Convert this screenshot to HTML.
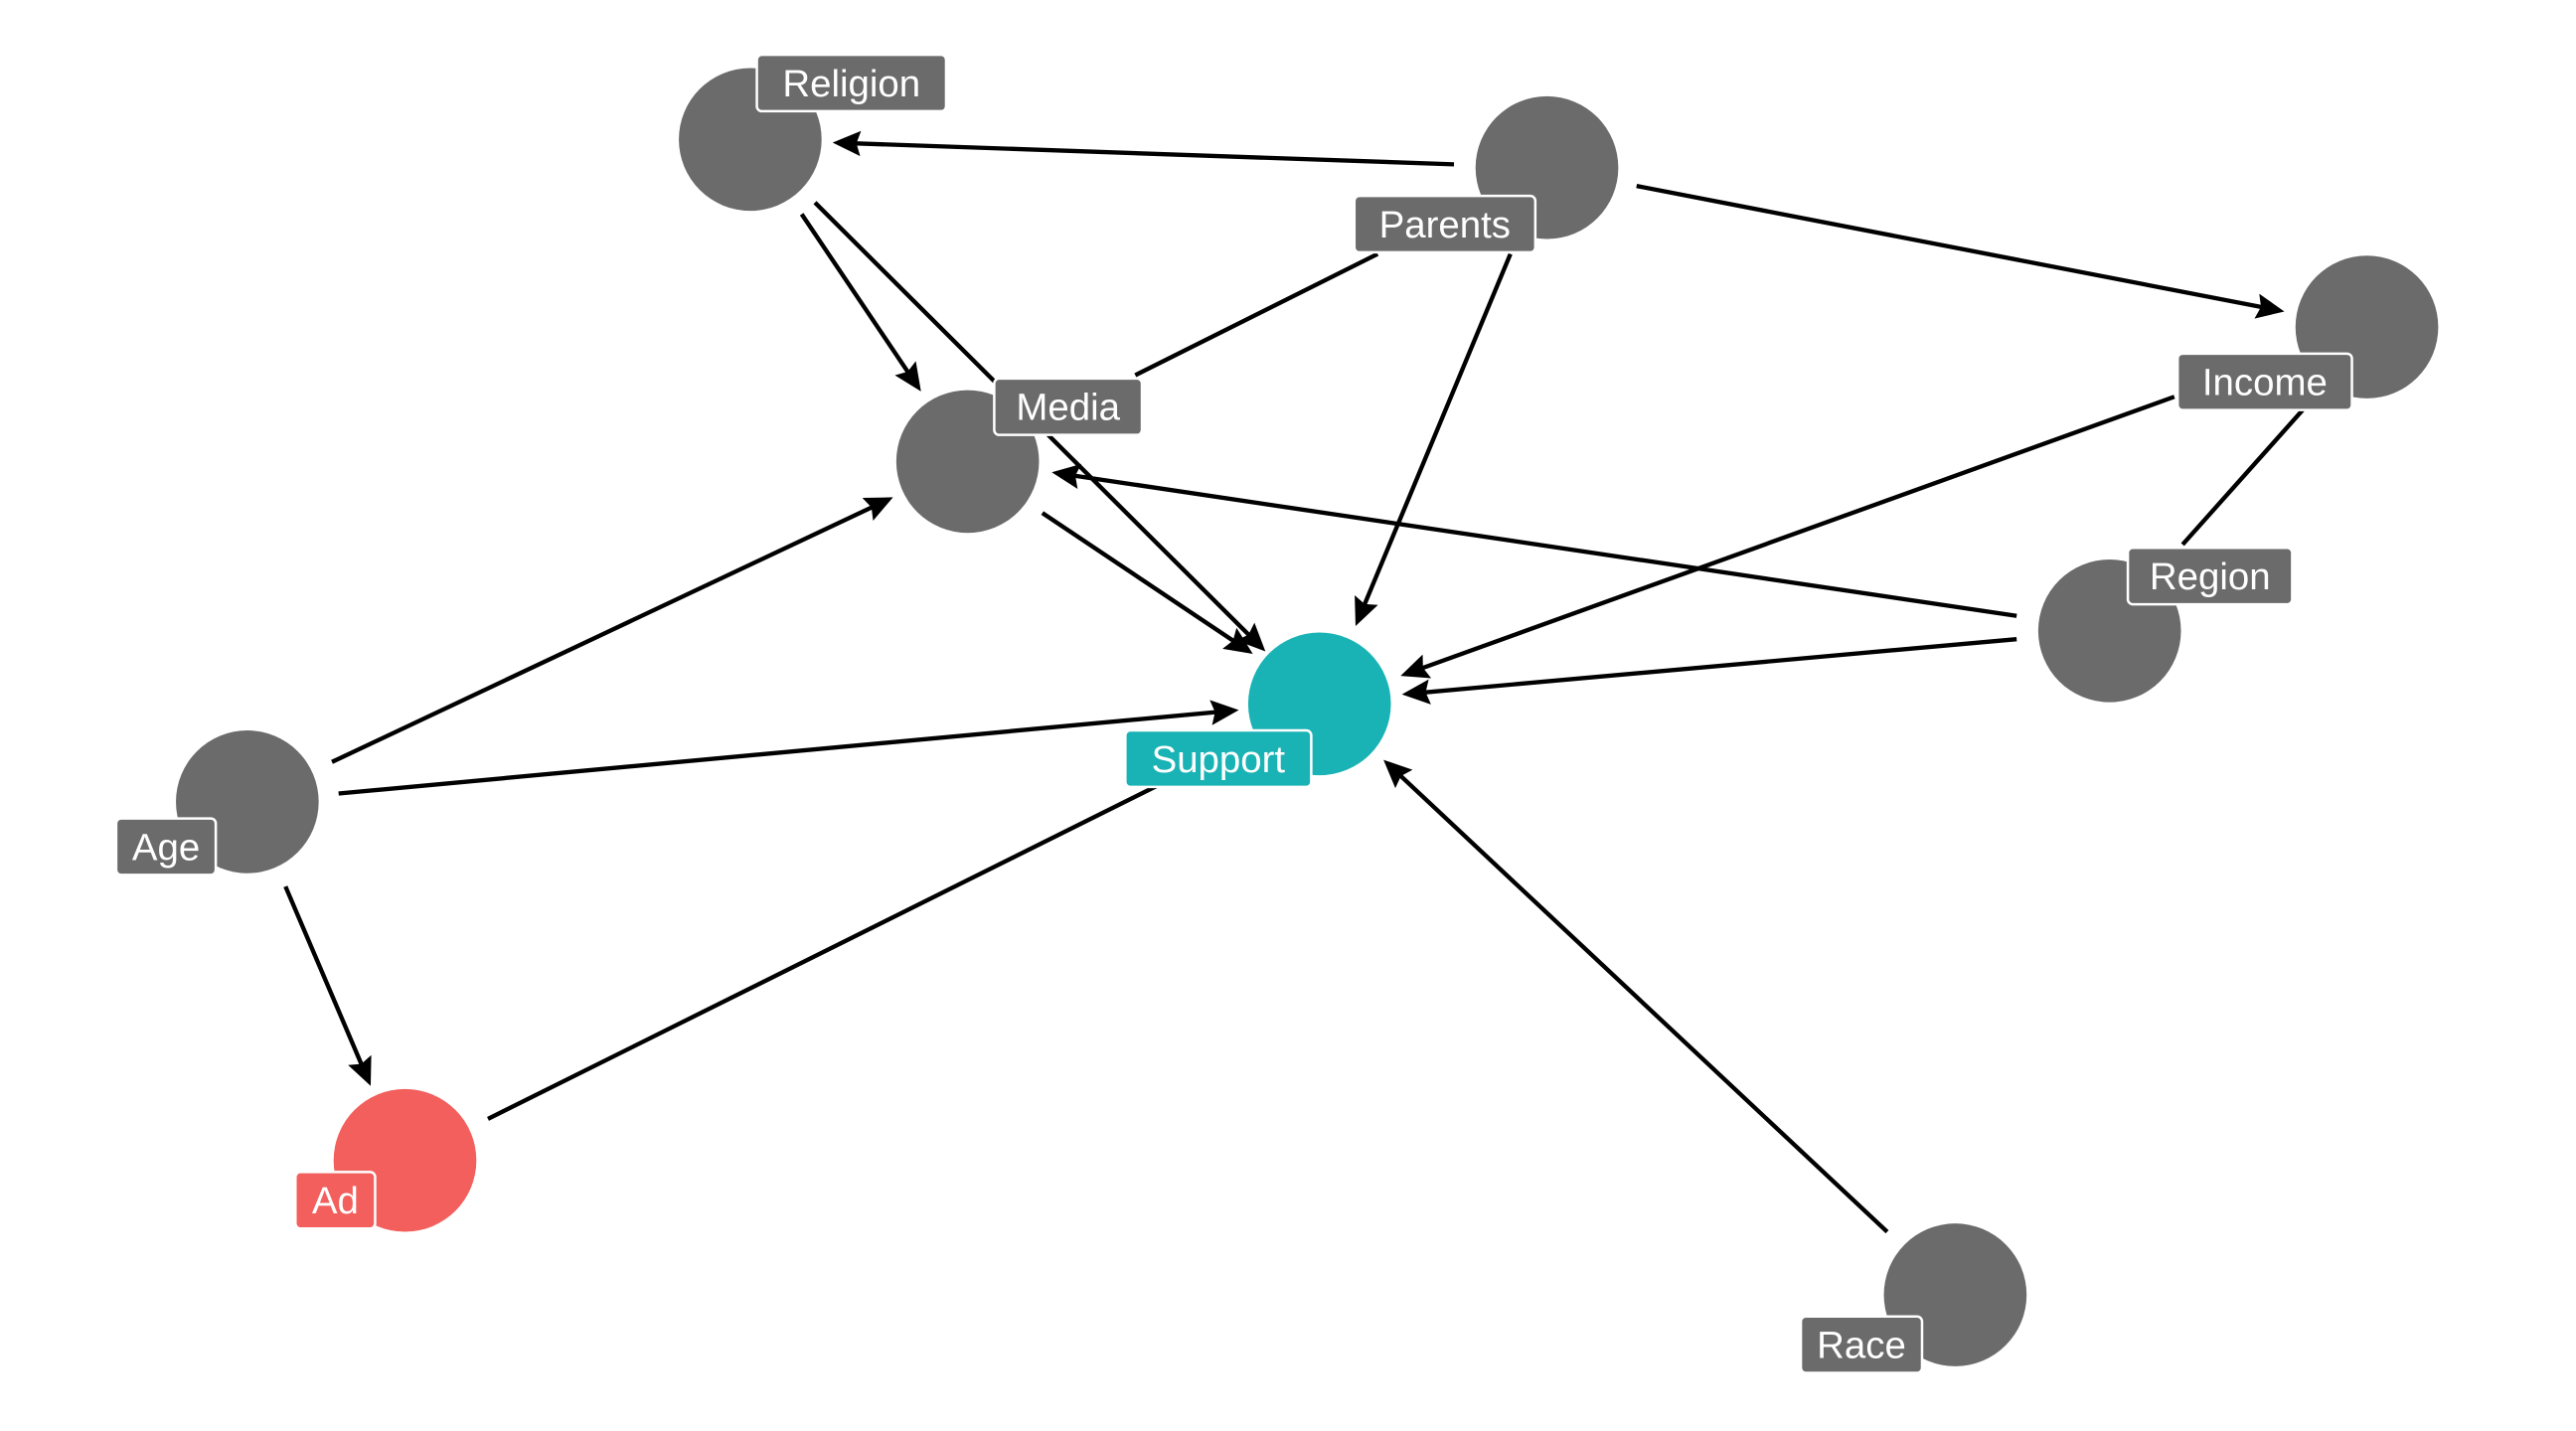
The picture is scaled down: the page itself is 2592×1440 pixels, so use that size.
<!DOCTYPE html>
<html><head><meta charset="utf-8"><style>
html,body{margin:0;padding:0;background:#fff;}
svg{display:block;}
text{font-family:"Liberation Sans",sans-serif;font-size:23px;fill:#fff;}
</style></head><body>
<svg width="2592" height="1440" viewBox="0 0 1552 862" preserveAspectRatio="none" xmlns="http://www.w3.org/2000/svg">
<defs>
<marker id="a" viewBox="0 0 10 10" refX="8" refY="5" markerWidth="6.5" markerHeight="6.5" orient="auto" markerUnits="strokeWidth">
<path d="M0,0.5 L10,5 L0,9.5 L1.5,5 z" fill="#000"/></marker>
</defs>
<rect width="1552" height="862" fill="#fff"/>
<g stroke="#000" stroke-width="2.6" fill="none">
<line x1="876" y1="99" x2="505" y2="86" marker-end="url(#a)"/>
<line x1="986" y1="112" x2="1373" y2="187" marker-end="url(#a)"/>
<line x1="910" y1="153" x2="818" y2="374" marker-end="url(#a)"/>
<line x1="830" y1="153" x2="684" y2="226"/>
<line x1="483" y1="129" x2="553" y2="233" marker-end="url(#a)"/>
<line x1="491" y1="122" x2="760" y2="390" marker-end="url(#a)"/>
<line x1="628" y1="309" x2="752" y2="392" marker-end="url(#a)"/>
<line x1="1215" y1="371" x2="637" y2="285" marker-end="url(#a)"/>
<line x1="1215" y1="385" x2="848" y2="418" marker-end="url(#a)"/>
<line x1="1310" y1="239" x2="847" y2="406" marker-end="url(#a)"/>
<line x1="1315" y1="328" x2="1390" y2="244"/>
<line x1="200" y1="459" x2="535" y2="301" marker-end="url(#a)"/>
<line x1="204" y1="478" x2="743" y2="428" marker-end="url(#a)"/>
<line x1="172" y1="534" x2="222" y2="651" marker-end="url(#a)"/>
<line x1="294" y1="674" x2="740" y2="452"/>
<line x1="1137" y1="742" x2="836" y2="460" marker-end="url(#a)"/>
</g>
<g fill="#6b6b6b">
<circle cx="452" cy="84" r="43"/>
<circle cx="932" cy="101" r="43"/>
<circle cx="1426" cy="197" r="43"/>
<circle cx="583" cy="278" r="43"/>
<circle cx="1271" cy="380" r="43"/>
<circle cx="149" cy="483" r="43"/>
<circle cx="1178" cy="780" r="43"/>
</g>
<circle cx="795" cy="424" r="43" fill="#1ab3b5"/>
<circle cx="244" cy="699" r="43" fill="#f25f5c"/>
<g stroke="#fff" stroke-width="1.5">
<rect x="456" y="33" width="114" height="34" rx="3" fill="#6b6b6b"/>
<rect x="816" y="118" width="109" height="34" rx="3" fill="#6b6b6b"/>
<rect x="1312" y="213" width="105" height="34" rx="3" fill="#6b6b6b"/>
<rect x="599" y="228" width="89" height="34" rx="3" fill="#6b6b6b"/>
<rect x="1282" y="330" width="99" height="34" rx="3" fill="#6b6b6b"/>
<rect x="678" y="440" width="112" height="34" rx="3" fill="#1ab3b5"/>
<rect x="70" y="493" width="60" height="34" rx="3" fill="#6b6b6b"/>
<rect x="178" y="706" width="48" height="34" rx="3" fill="#f25f5c"/>
<rect x="1085" y="793" width="73" height="34" rx="3" fill="#6b6b6b"/>
</g>
<g text-anchor="middle">
<text x="513" y="58">Religion</text>
<text x="870.5" y="143">Parents</text>
<text x="1364.5" y="238">Income</text>
<text x="643.5" y="253">Media</text>
<text x="1331.5" y="355">Region</text>
<text x="734" y="465">Support</text>
<text x="100" y="518">Age</text>
<text x="202" y="731">Ad</text>
<text x="1121.5" y="818">Race</text>
</g>
</svg>
</body></html>
